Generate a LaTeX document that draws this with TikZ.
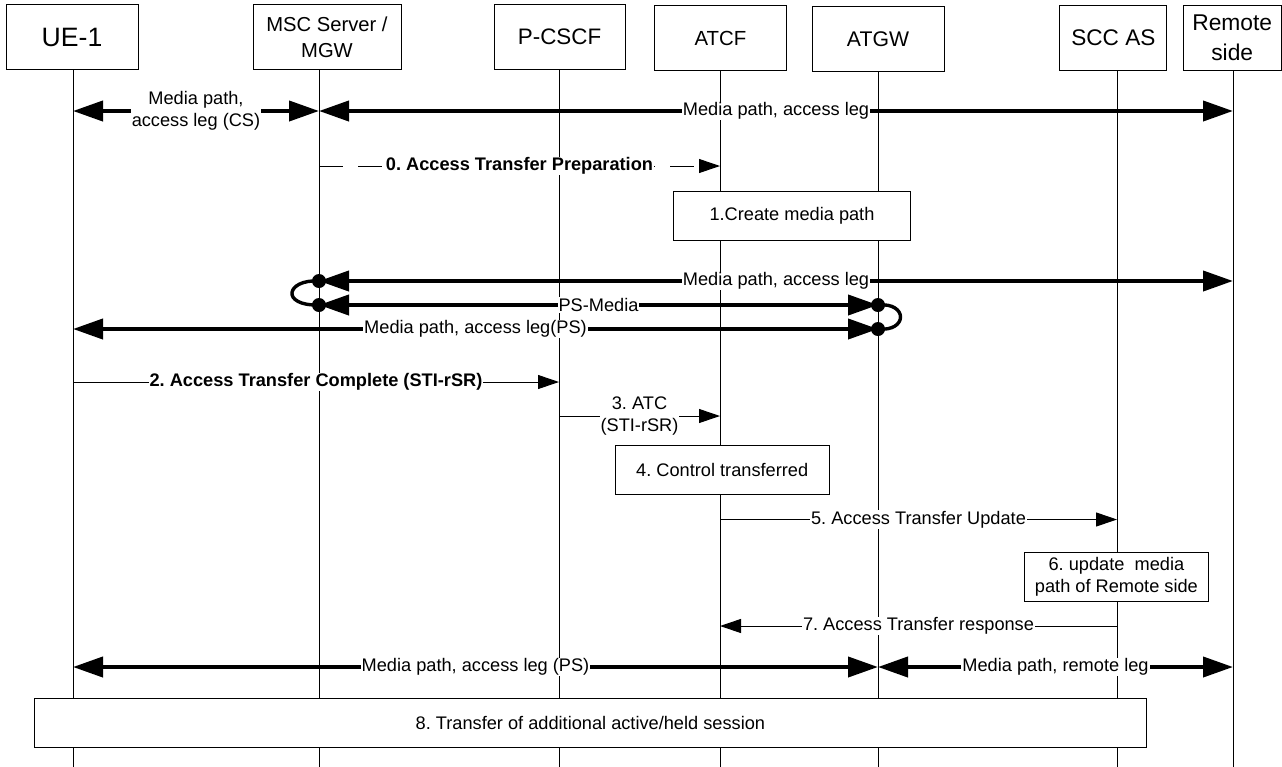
\documentclass[tikz,border=0pt]{standalone}
\usepackage{fontspec}
\setmainfont{Liberation Sans}
\usetikzlibrary{arrows.meta}
\frenchspacing

\begin{document}
\begin{tikzpicture}[x=0.5pt, y=-0.5pt,
    head/.style={draw, line width=0.5pt, fill=white, align=center, inner sep=0pt, minimum height=32.5pt},
    life/.style={line width=0.5pt},
    media/.style={line width=2pt, {Triangle[length=15pt,width=10pt]}-{Triangle[length=15pt,width=10pt]}},
    msg/.style={line width=0.5pt, -{Triangle[length=10.5pt,width=7pt]}},
    lbl/.style={fill=white, inner sep=0.5pt, align=center, font=\fontsize{9.1}{10.8}\selectfont},
    stepbox/.style={draw, line width=0.5pt, fill=white, align=center, inner sep=0pt, minimum height=24.5pt, font=\fontsize{9.1}{10.8}\selectfont},
    dot/.style={circle, fill, inner sep=0pt, minimum size=7pt}]
    \useasboundingbox (0,0) rectangle (1282,767);

    \node[head, minimum width=66pt, font=\fontsize{13.3}{16}\selectfont] (ue) at (72,37.4) {UE-1};
    \node[head, minimum width=74pt, font=\fontsize{10.1}{13.3}\selectfont] (msc) at (327,37.4) {MSC Server /\\MGW};
    \node[head, minimum width=65.5pt, font=\fontsize{11.2}{14}\selectfont] (pcscf) at (559.6,37) {P-CSCF};
    \node[head, minimum width=66pt, font=\fontsize{10.2}{13}\selectfont] (atcf) at (720.5,38) {ATCF};
    \node[head, minimum width=66pt, font=\fontsize{10.6}{13}\selectfont] (atgw) at (878,39.3) {ATGW};
    \node[head, minimum width=53.5pt, font=\fontsize{11.3}{14}\selectfont] (scc) at (1113.4,38) {SCC AS};
    \node[head, minimum width=49pt, font=\fontsize{11.4}{15}\selectfont] (remote) at (1232.2,37.5) {Remote\\side};

    \foreach \n/\x in {ue/73, msc/319, pcscf/559, atcf/720, atgw/878, scc/1117, remote/1233} {
        \coordinate (\n-l) at (\x,767);
        \draw[life] (\n-l |- \n.south) -- (\n-l);
    }

    \node[stepbox, minimum width=118.4pt] (create) at (792,215.5) {1.Create media path};
    \node[stepbox, minimum width=107.2pt] (control) at (722.2,470) {4. Control transferred};
    \node[stepbox, minimum width=92.4pt] (update) at (1116.4,577) {6. update~ media\\path of Remote side};
    \node[stepbox, minimum width=556pt] (transfer) at (590.4,723) {8. Transfer of additional active/held session};

    \draw[media] (ue-l |- 0,111) -- node[lbl] (m1a) {Media path,\\access leg (CS)} (msc-l |- 0,111);
    \draw[media] (msc-l |- 0,111) -- node[lbl] (m1b) {Media path, access leg} (remote-l |- 0,111);
    \draw[msg, dash pattern=on 12pt off 7.5pt] (msc-l |- 0,166) -- node[lbl] (m0) {\bfseries 0. Access Transfer Preparation} (atcf-l |- 0,166);

    \draw[media] (msc-l |- 0,281) -- node[lbl] (ma) {Media path, access leg} (remote-l |- 0,281);
    \draw[media] (msc-l |- 0,305) -- node[lbl] (mb) {PS-Media} (atgw-l |- 0,305);
    \draw[media] (ue-l |- 0,329) -- node[lbl] (mc) {Media path, access leg(PS)} (atgw-l |- 0,329);
    \node[dot] (da) at (msc-l |- 0,281) {};
    \node[dot] (db) at (msc-l |- 0,305) {};
    \node[dot] (dc) at (atgw-l |- 0,305) {};
    \node[dot] (dd) at (atgw-l |- 0,329) {};
    \draw[line width=1.7pt] (da.center) .. controls +(-33,-2) and +(-39,1) .. (db.center);
    \draw[line width=1.7pt] (dc.center) .. controls +(30,-3) and +(30,3) .. (dd.center);

    \draw[msg] (ue-l |- 0,382) -- node[lbl] (m2) {\bfseries 2. Access Transfer Complete (STI-rSR)} (pcscf-l |- 0,382);
    \draw[msg] (pcscf-l |- 0,416) -- node[lbl] (m3) {3. ATC\\(STI-rSR)} (atcf-l |- 0,416);
    \draw[msg] (atcf-l |- 0,519.5) -- node[lbl] (m5) {5. Access Transfer Update} (scc-l |- 0,519.5);
    \draw[msg] (scc-l |- 0,626) -- node[lbl] (m7) {7. Access Transfer response} (atcf-l |- 0,626);

    \draw[media] (ue-l |- 0,667) -- node[lbl] (md) {Media path, access leg (PS)} (atgw-l |- 0,667);
    \draw[media] (atgw-l |- 0,667) -- node[lbl] (me) {Media path, remote leg} (remote-l |- 0,667);
\end{tikzpicture}
\end{document}
